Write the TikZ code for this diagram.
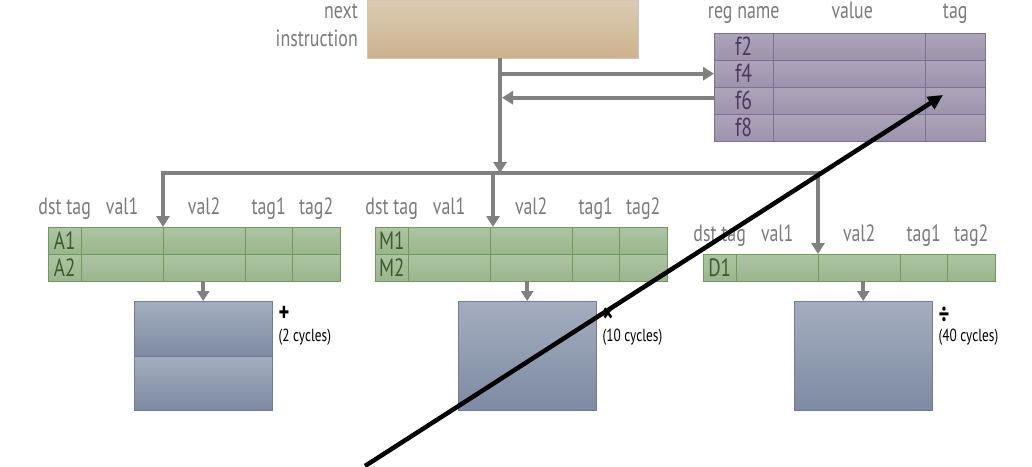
\documentclass[tikz,border=0pt]{standalone}
\usepackage{fontspec}
\setmainfont{PT Sans}[FakeStretch=0.76]
\usetikzlibrary{arrows.meta,positioning}
\definecolor{wirecolor}{HTML}{808080}
\definecolor{tantop}{HTML}{DACBB2}
\definecolor{tanbot}{HTML}{CDB28E}
\definecolor{regtop}{HTML}{ADA5BA}
\definecolor{regbot}{HTML}{9D93AC}
\definecolor{regline}{HTML}{7E6F97}
\definecolor{regtext}{HTML}{4A3A63}
\definecolor{rstop}{HTML}{ADC5A3}
\definecolor{rsbot}{HTML}{9AB68D}
\definecolor{rsline}{HTML}{6F9A5E}
\definecolor{rstext}{HTML}{3C5A2E}
\definecolor{unittop}{HTML}{A4AEBF}
\definecolor{unitbot}{HTML}{7D8AA2}
\definecolor{unitline}{HTML}{6B7F9B}
\tikzstyle{hdr} = [text=wirecolor!95!black, font=\fontsize{23.5}{28}\selectfont, inner sep=0pt]
\tikzstyle{instrbox} = [
    draw=tanbot!90!black!60,
    top color=tantop,
    bottom color=tanbot,
    rectangle,
    inner sep=0pt,
    minimum width=271pt,
    minimum height=58pt,
    anchor=north west
    ]
\tikzstyle{regcell} = [
    draw=regline,
    top color=regtop,
    bottom color=regbot,
    text=regtext,
    font=\fontsize{26}{26}\selectfont,
    inner sep=0pt,
    minimum height=27pt,
    anchor=north west
    ]
\tikzstyle{rscell} = [
    draw=rsline,
    top color=rstop,
    bottom color=rsbot,
    text=rstext,
    font=\fontsize{25}{25}\selectfont,
    inner sep=0pt,
    minimum height=27pt,
    anchor=north west
    ]
\tikzstyle{unitbox} = [
    draw=unitline,
    top color=unittop,
    bottom color=unitbot,
    inner sep=0pt,
    minimum width=138pt,
    anchor=north west
    ]
\tikzstyle{opsym} = [font=\fontsize{27}{27}\selectfont\bfseries, inner sep=0pt, anchor=west]
\tikzstyle{cycles} = [font=\fontsize{17.5}{18}\selectfont, inner sep=0pt, anchor=west]
\tikzstyle{wire} = [draw=wirecolor, line width=4pt]
\tikzstyle{wirearrow} = [wire, -{Triangle[length=11pt,width=13pt]}]
\tikzstyle{feedarrow} = [draw=wirecolor, line width=3.5pt, -{Triangle[length=10pt,width=12pt]}]

\begin{document}
\begin{tikzpicture}[x=1pt,y=-1pt]
\useasboundingbox (0,0) rectangle (1032,466);

% instruction and register file
\node [instrbox] (instr) at (367,0) {};
\node [hdr, anchor=base east] (instrnext) at (358,18) {next};
\node [hdr, anchor=base east] (instrlbl) at (358,46) {instruction};

\foreach \r/\y in {f2/33,f4/60,f6/87,f8/114}{
    \node [regcell, minimum width=59pt] (\r-1) at (714,\y) {\r};
    \node [regcell, minimum width=152pt] (\r-2) at (773,\y) {};
    \node [regcell, minimum width=60pt] (\r-3) at (925,\y) {};
}
\node [hdr, anchor=base] (hregname) at ([yshift=15pt]f2-1.north) {reg name};
\node [hdr, anchor=base] (hvalue) at ([xshift=3pt,yshift=15pt]f2-2.north) {value};
\node [hdr, anchor=base] (htag) at ([yshift=15pt]f2-3.north) {tag};

% reservation stations
\foreach \nm/\x/\y/\rows in {A/48/227/{1,2}, M/375/227/{1,2}, D/703/254/{1}}{
    \foreach \r in \rows{
        \foreach \c/\dx/\w in {1/0/33, 2/33/82, 3/115/82, 4/197/47, 5/244/48}{
            \node [rscell, minimum width=\w pt] (\nm\r-\c) at (\x+\dx,\y+27*\r-27) {\ifnum\c=1 \nm\r\fi};
        }
    }
    \foreach \c/\t in {1/dst tag, 2/val1, 3/val2, 4/tag1, 5/tag2}{
        \node [hdr, anchor=base] (h\nm\c) at ([yshift=13pt]\nm1-\c.north) {\t};
    }
}

% functional units
\node [unitbox, minimum height=55pt] (addU1) at (134,301) {};
\node [unitbox, minimum height=54pt] (addU2) at (134,356) {};
\node [unitbox, minimum height=109pt] (mulU) at (458,301) {};
\node [unitbox, minimum height=109pt] (divU) at (794,301) {};

\node [opsym] (addop) at ([xshift=6pt,yshift=-13pt]addU1.north east) {+};
\node [cycles] (addcyc) at ([xshift=6pt,yshift=-36pt]addU1.north east) {(2 cycles)};
\node [opsym] (mulop) at ([xshift=6pt,yshift=-14pt]mulU.north east) {×};
\node [cycles] (mulcyc) at ([xshift=6pt,yshift=-36pt]mulU.north east) {(10 cycles)};
\node [opsym] (divop) at ([xshift=6pt,yshift=-14pt]divU.north east) {÷};
\node [cycles] (divcyc) at ([xshift=6pt,yshift=-36pt]divU.north east) {(40 cycles)};

% wires
\coordinate (trunk) at (500,58);
\coordinate (bus) at (0,173);
\draw [wirearrow] (trunk) -- (trunk |- bus);
\draw [wirearrow] (trunk |- f4-1.west) -- (f4-1.west);
\draw [wirearrow] ([yshift=3pt]f6-1.west) -- ([xshift=2pt,yshift=3pt]trunk |- f6-1.west);
\draw [wire] ([xshift=-2pt]A1-3.north west |- bus) -- ([xshift=2pt]D1-3.north west |- bus);
\draw [wirearrow] (A1-3.north west |- bus) -- (A1-3.north west);
\draw [wirearrow] ([xshift=3pt]M1-3.north west |- bus) -- ([xshift=3pt]M1-3.north west);
\draw [wirearrow] (D1-3.north west |- bus) -- (D1-3.north west);

\draw [feedarrow] (addU1.north |- A2-3.south) -- (addU1.north);
\draw [feedarrow] (mulU.north |- M2-3.south) -- (mulU.north);
\draw [feedarrow] (divU.north |- D1-3.south) -- (divU.north);

% pointer
\coordinate (ptrtail) at (365,466);
\coordinate (ptrhead) at (943,95);
\draw [line width=4.5pt, -{Triangle[length=15pt,width=14pt]}] (ptrtail) -- (ptrhead);
\end{tikzpicture}
\end{document}
